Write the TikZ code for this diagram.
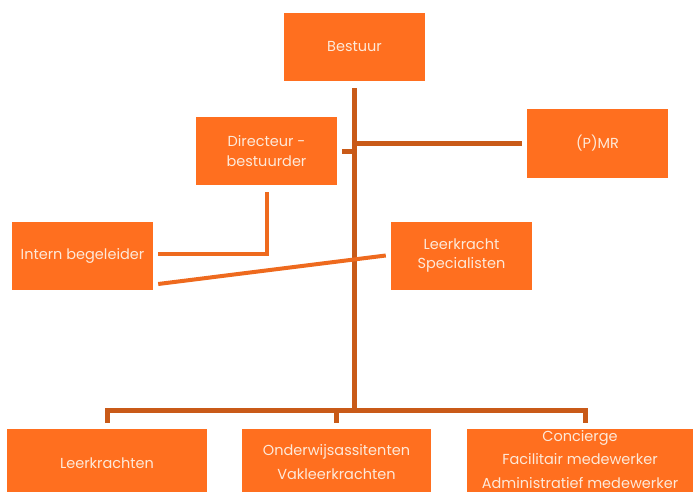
\documentclass[tikz,border=0pt]{standalone}
\usepackage{fontspec}
\setmainfont{Poppins}
\usetikzlibrary{positioning, calc}

\definecolor{boxorange}{HTML}{FF6F1F}
\definecolor{lineorange}{HTML}{C95A18}
\definecolor{linklight}{HTML}{EE6A1E}
\definecolor{textpeach}{HTML}{FDE9D9}

\begin{document}
\begin{tikzpicture}[
    x=1pt, y=-1pt,
    post/.style={
        fill=boxorange,
        text=textpeach,
        minimum width=141pt,
        minimum height=68pt,
        inner sep=0pt,
        align=center,
        font=\fontsize{14.5}{23.5}\selectfont
    },
    trunk/.style={lineorange, line width=5pt},
    link/.style={linklight, line width=4pt}
]
\useasboundingbox (0,0) rectangle (693,492);
\clip (0,0) rectangle (693,492);

% ===== bovenste lagen =====
\node[post] (bestuur) at (354.5,47) {Bestuur};
\node[post] (directeur) at (266.5,151) {Directeur -\\[-4pt]bestuurder};
\node[post] (pmr) at (597.5,143.5) {(P)MR};
\node[post] (ib) at (82.5,255.5) {Intern begeleider};
\node[post] (specialisten) at (461.5,255.5) {Leerkracht\\[-4pt]Specialisten};

% ===== onderste rij (afgesneden) =====
\node[post, minimum width=200pt, minimum height=82pt] (leerkrachten) at (107,470)
    {Leerkrachten\rule[-14pt]{0pt}{0pt}};
\node[post, minimum width=189pt, minimum height=82pt] (oa) at (336.5,470)
    {Onderwijsassitenten\\Vakleerkrachten\rule[-16pt]{0pt}{0pt}};
\node[post, minimum width=226pt, minimum height=82pt, anchor=north] (concierge) at (580,429)
    {Concierge\\Facilitair medewerker\\Administratief medewerker\rule[-22pt]{0pt}{0pt}};

% ===== verbindingen =====
\coordinate (bus) at (354,410);
\draw[trunk] ([yshift=-7pt]bestuur.south) -- (bestuur.south |- bus);
\draw[trunk] (bestuur.south |- pmr.west) -- ([xshift=-5pt]pmr.west);
\draw[trunk] ([xshift=5pt]directeur.east) -- (bestuur.south |- directeur.east);
\draw[link] ([yshift=-7pt]directeur.south) |- ([xshift=5pt,yshift=1.5pt]ib.east);
\draw[link] ([xshift=5pt,yshift=-28.5pt]ib.east) -- ([xshift=-5pt]specialisten.west);

% ===== bus naar onderste rij =====
\draw[trunk] ([yshift=6pt]leerkrachten.north) |- (bus) -| ([xshift=5pt,yshift=6pt]concierge.north);
\draw[trunk] (oa.north |- bus) -- ([yshift=6pt]oa.north);

\end{tikzpicture}
\end{document}
